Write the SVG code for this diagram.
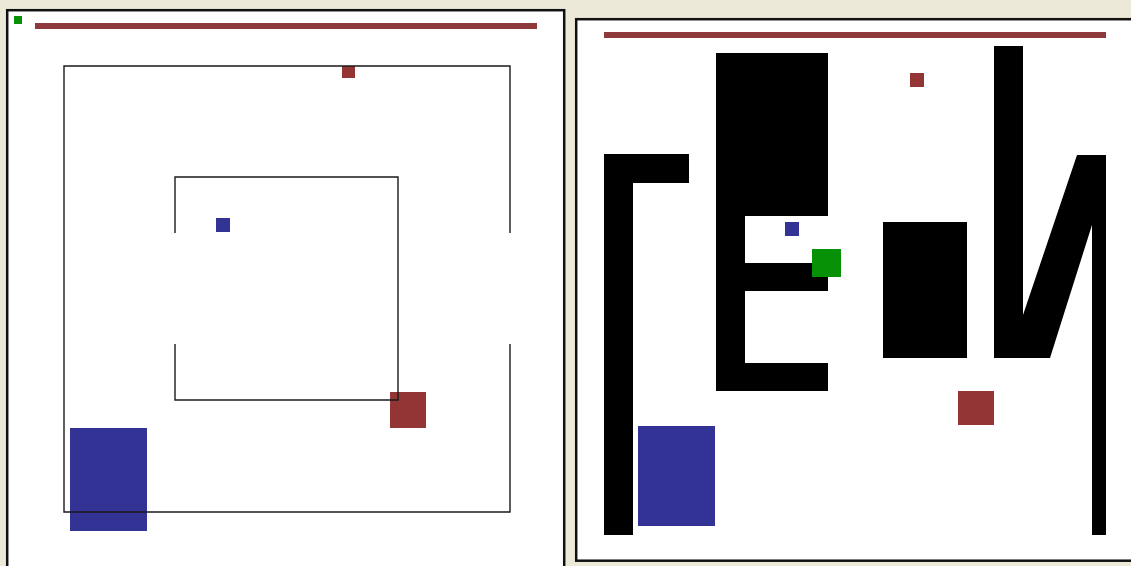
<svg xmlns="http://www.w3.org/2000/svg" width="1131" height="566" viewBox="0 0 1131 566">
  <style>
    .panel { fill: #ffffff; stroke: #111111; stroke-width: 2.5; }
    .bar { fill: #8e3a3c; }
    .red { fill: #933535; }
    .blue { fill: #333396; }
    .green { fill: #079107; }
    .wall { fill: #000000; }
    .line { fill: none; stroke: #1a1a1a; stroke-width: 1.4; }
  </style>
  <rect x="0" y="0" width="1131" height="566" fill="#ece9d8"/>

  <g id="left-panel">
    <rect class="panel" x="7.2" y="10.2" width="557" height="562"/>
    <rect class="green" x="14" y="16" width="8" height="8"/>
    <rect class="bar" x="35" y="23" width="502" height="6"/>
    <rect class="red" x="342" y="66" width="13" height="12"/>
    <rect class="blue" x="216" y="218" width="14" height="14"/>
    <rect class="red" x="390" y="392" width="36" height="36"/>
    <rect class="blue" x="70" y="428" width="77" height="103"/>
    <!-- outer square with gap on right side -->
    <path class="line" d="M510,233 V66 H64 V512 H510 V344"/>
    <!-- inner square with gap on left side -->
    <path class="line" d="M175,233 V177 H398 V400 H175 V344"/>
  </g>

  <g id="right-panel">
    <rect class="panel" x="576.2" y="19.2" width="560" height="541.5"/>
    <rect class="bar" x="604" y="32" width="502" height="6"/>
    <!-- Gamma -->
    <path class="wall" d="M604,154 H689 V183 H633 V535 H604 Z"/>
    <!-- E -->
    <path class="wall" d="M716,53 H828 V216 H745 V263 H828 V291 H745 V363 H828 V391 H716 Z"/>
    <!-- block -->
    <rect class="wall" x="883" y="222" width="84" height="136"/>
    <!-- N -->
    <path class="wall" d="M994,46 H1023 V315 L1077,155 H1106 V535 H1092 V225 L1050,358 H994 Z"/>
    <rect class="red" x="910" y="73" width="14" height="14"/>
    <rect class="blue" x="785" y="222" width="14" height="14"/>
    <rect class="green" x="812" y="249" width="29" height="28"/>
    <rect class="red" x="958" y="391" width="36" height="34"/>
    <rect class="blue" x="638" y="426" width="77" height="100"/>
  </g>
</svg>
